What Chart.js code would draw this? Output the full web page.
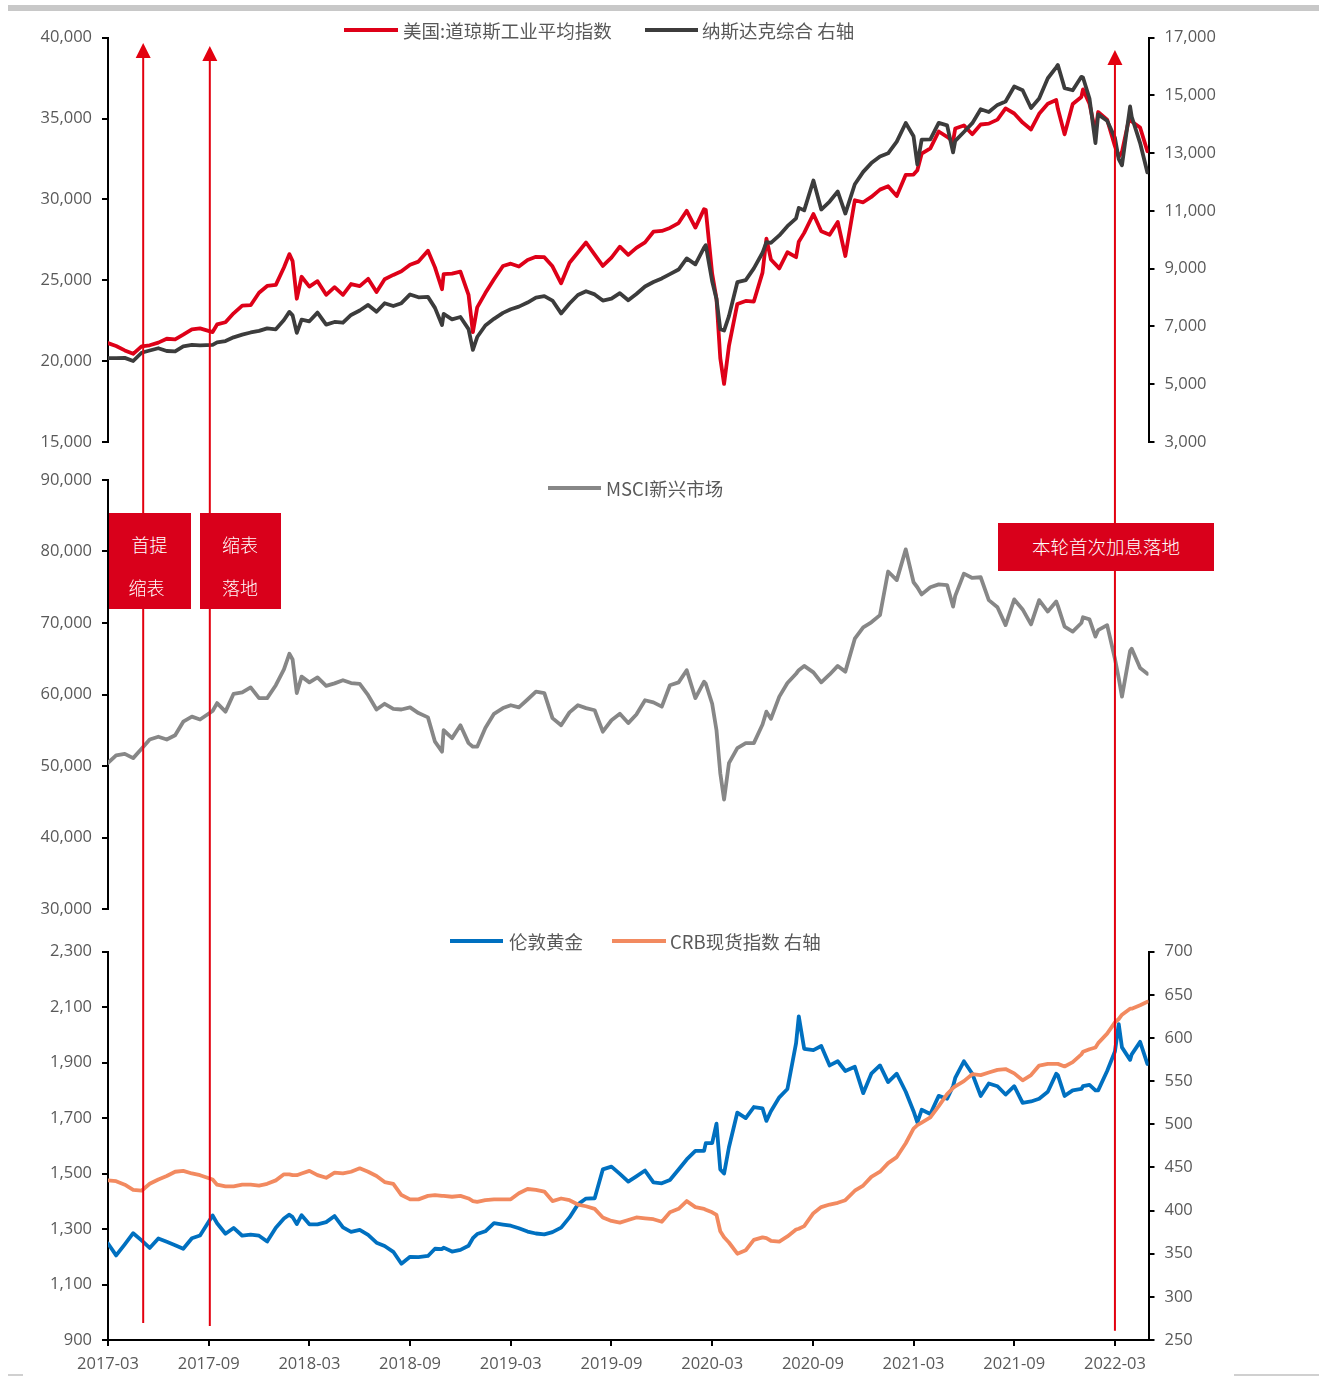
<!DOCTYPE html>
<html><head><meta charset="utf-8">
<script src="https://cdn.jsdelivr.net/npm/chart.js@4.4.1/dist/chart.umd.min.js"></script>
<style>
html,body{margin:0;padding:0;background:#fff;}
#wrap{position:relative;width:1319px;height:1376px;overflow:hidden;background:#fff;}
canvas{position:absolute;left:0;}
.lg{position:absolute;height:24px;line-height:24px;font-family:"Noto Sans CJK SC","Noto Sans",sans-serif;font-size:18.5px;color:#595959;white-space:nowrap;}
.sw{position:absolute;height:4px;}
.box{position:absolute;background:#D9001B;}
.bt{position:absolute;height:24px;line-height:24px;font-family:"Noto Sans CJK SC",sans-serif;font-weight:300;font-size:18px;color:#fff;white-space:nowrap;}
</style></head><body>
<div id="wrap">
 <div style="position:absolute;left:8px;top:5px;width:1311px;height:6px;background:#C8C8C8"></div>
 <canvas id="cTop" width="1319" height="462" style="top:0px;width:1319px;height:462px"></canvas>
 <canvas id="cMid" width="1319" height="463" style="top:462px;width:1319px;height:463px"></canvas>
 <canvas id="cBot" width="1319" height="451" style="top:925px;width:1319px;height:451px"></canvas>

 <div class="sw" style="left:344px;top:28px;width:54px;background:#DE0018"></div>
 <div class="lg" style="left:403px;top:18px">美国:道琼斯工业平均指数</div>
 <div class="sw" style="left:645px;top:28px;width:53px;background:#3C3C3C"></div>
 <div class="lg" style="left:702px;top:18px">纳斯达克综合 右轴</div>

 <div class="sw" style="left:548px;top:486px;width:53px;background:#878787"></div>
 <div class="lg" style="left:606px;top:476px">MSCI新兴市场</div>

 <div class="sw" style="left:450px;top:939px;width:53px;background:#0070C0"></div>
 <div class="lg" style="left:509px;top:929px">伦敦黄金</div>
 <div class="sw" style="left:612px;top:939px;width:54px;background:#F28A60"></div>
 <div class="lg" style="left:670px;top:929px">CRB现货指数 右轴</div>

 <div class="box" style="left:108.6px;top:513px;width:82px;height:96px"></div>
 <div class="box" style="left:199.5px;top:513px;width:81.5px;height:96px"></div>
 <div class="box" style="left:998px;top:523px;width:215.5px;height:48px"></div>
 <div class="bt" style="left:131.5px;top:532px">首提</div>
 <div class="bt" style="left:128.5px;top:575px">缩表</div>
 <div class="bt" style="left:222px;top:532px">缩表</div>
 <div class="bt" style="left:222px;top:575px">落地</div>
 <div class="bt" style="left:1032px;top:534px;font-size:18.5px">本轮首次加息落地</div>

 <div style="position:absolute;left:8px;top:1374px;width:15px;height:2px;background:#D0D0D0"></div>
 <div style="position:absolute;left:1234px;top:1374px;width:85px;height:2px;background:#D0D0D0"></div>
</div>
<script>
// ---------------- data ----------------
const dates = [
'2017-03-01','2017-03-16','2017-04-01','2017-04-16','2017-05-01','2017-05-16','2017-06-01','2017-06-16','2017-07-01','2017-07-16',
'2017-08-01','2017-08-16','2017-09-08','2017-09-16','2017-10-01','2017-10-16','2017-11-01','2017-11-16','2017-12-01','2017-12-16',
'2018-01-01','2018-01-16','2018-01-26','2018-02-01','2018-02-08','2018-02-16','2018-03-01','2018-03-16','2018-04-01','2018-04-16',
'2018-05-01','2018-05-16','2018-06-01','2018-06-16','2018-07-01','2018-07-16','2018-08-01','2018-08-16','2018-09-01','2018-09-16',
'2018-10-03','2018-10-16','2018-10-29','2018-11-01','2018-11-16','2018-12-01','2018-12-16','2018-12-24',
'2019-01-01','2019-01-16','2019-02-01','2019-02-16','2019-03-01','2019-03-16','2019-04-01','2019-04-16','2019-05-01','2019-05-16',
'2019-06-01','2019-06-16','2019-07-01','2019-07-16','2019-08-01','2019-08-16','2019-09-01','2019-09-16','2019-10-01','2019-10-16',
'2019-11-01','2019-11-16','2019-12-01','2019-12-16',
'2020-01-01','2020-01-16','2020-02-01','2020-02-16','2020-02-19','2020-03-01','2020-03-09','2020-03-16','2020-03-23','2020-04-01',
'2020-04-16','2020-05-01','2020-05-16','2020-06-01','2020-06-08','2020-06-16','2020-07-01','2020-07-16','2020-08-01','2020-08-06',
'2020-08-16','2020-09-02','2020-09-16','2020-10-01','2020-10-16','2020-10-30','2020-11-16','2020-12-01','2020-12-16',
'2021-01-01','2021-01-16','2021-02-01','2021-02-16','2021-03-01','2021-03-08','2021-03-16','2021-04-01','2021-04-16','2021-05-01',
'2021-05-12','2021-05-16','2021-06-01','2021-06-16','2021-07-01','2021-07-16','2021-08-01','2021-08-16','2021-09-01','2021-09-16',
'2021-10-01','2021-10-16','2021-11-01','2021-11-16','2021-11-19','2021-12-01','2021-12-16',
'2022-01-01','2022-01-04','2022-01-16','2022-01-27','2022-02-01','2022-02-16','2022-03-01','2022-03-08','2022-03-14','2022-03-29',
'2022-04-01','2022-04-16','2022-04-29'];

const dow = [
21115,20934,20663,20453,20913,20980,21144,21384,21350,21638,21964,22024,21798,22268,22405,22957,23435,23458,24231,24651,
24719,25792,26617,26186,23860,25219,24608,24946,24103,24573,24099,24768,24635,25090,24271,25064,25333,25558,25965,26154,
26828,25798,24443,25380,25413,25538,24100,21792,
23327,24207,25063,25883,26026,25849,26258,26452,26430,25862,24815,26089,26717,27335,26583,25886,26403,27076,26573,27001,
27347,28004,28051,28235,
28538,29297,28256,29398,29348,25409,23851,20188,18591,20943,23537,23723,23685,25475,27572,26289,25734,26734,26428,27386,
27931,29100,28032,27816,28606,26501,29950,29823,30154,
30606,30814,30212,31523,31535,31802,32825,33153,34200,33874,33587,34382,34575,34033,34633,34687,34935,35625,35312,34751,
34326,35294,35913,36142,35601,34022,35897,
36338,36799,35911,34160,35405,34934,33294,32632,32945,35294,34818,34451,32977];

const nasdaq = [
5904,5901,5912,5805,6091,6169,6246,6151,6140,6312,6362,6345,6360,6448,6496,6624,6716,6793,6848,6936,
6903,7224,7505,7385,6777,7239,7180,7481,7063,7156,7130,7398,7554,7746,7510,7805,7707,7806,8109,8010,
8025,7645,7050,7434,7247,7330,6910,6193,
6635,7034,7264,7472,7595,7688,7829,8000,8050,7898,7453,7797,8091,8222,8111,7896,7963,8153,7909,8124,
8386,8540,8665,8814,
8973,9357,9151,9732,9817,8567,7950,6904,6860,7360,8533,8605,9014,9552,9924,9896,10154,10474,10745,11108,
11020,12056,11050,11326,11672,10911,11924,12355,12658,
12888,12998,13403,14047,13588,12609,13471,13480,14052,13962,13032,13430,13736,14040,14522,14427,14673,14793,15310,15181,
14567,14897,15595,15974,16057,15254,15180,
15645,15622,14893,13352,14346,14124,13533,12795,12581,14619,14262,13351,12335];

const msci = [
50430,51500,51700,51100,52400,53700,54100,53700,54300,56200,56900,56500,57700,58800,57600,60100,60300,61000,59500,59500,
61300,63500,65700,64900,60200,62500,61700,62400,61200,61560,62000,61600,61500,59900,57900,58700,58000,57900,58200,57400,
56800,53400,52000,55000,53900,55700,53200,52700,
52700,55300,57300,58100,58500,58200,59300,60400,60200,56700,55700,57500,58500,58100,57800,54800,56400,57300,56000,57200,
59200,58900,58300,61300,
61700,63400,59500,61800,61500,58700,55000,49000,45300,50400,52500,53200,53200,55800,57600,56600,59700,61600,62900,63400,
64000,63100,61700,62800,64000,63200,67800,69400,70100,
71100,77200,76000,80300,75700,75000,74000,75000,75400,75300,72300,73800,76900,76300,76400,73200,72200,69700,73300,71900,
69800,73200,71600,73000,72400,69500,68800,
70000,70800,70500,68100,69000,69700,65000,62300,59700,66100,66400,63700,62900];

const gold = [
1248,1205,1245,1285,1259,1232,1266,1254,1242,1229,1267,1277,1349,1321,1283,1304,1276,1280,1276,1255,
1305,1338,1352,1343,1318,1350,1317,1317,1325,1347,1306,1290,1297,1279,1251,1239,1218,1175,1200,1199,
1203,1229,1228,1233,1219,1225,1240,1267,
1282,1292,1321,1316,1312,1303,1291,1284,1281,1289,1305,1342,1389,1410,1411,1515,1525,1499,1471,1490,
1511,1468,1465,1477,
1515,1551,1582,1582,1610,1610,1680,1515,1500,1595,1720,1700,1740,1735,1690,1725,1775,1805,1970,2067,
1950,1945,1960,1890,1905,1870,1885,1790,1860,
1890,1830,1860,1795,1725,1685,1730,1715,1780,1770,1815,1845,1905,1860,1780,1825,1815,1785,1815,1755,
1760,1770,1795,1860,1855,1780,1800,
1805,1815,1820,1800,1800,1870,1940,2039,1955,1910,1930,1975,1895];

const crb = [
435,434,430,424,423,431,436,440,445,446,443,441,436,430,428,428,430,430,429,431,
435,442,442,441,441,443,446,441,438,444,443,445,449,445,440,433,431,418,413,413,
417,418,417,417,416,417,414,411,
410,412,413,413,413,420,425,424,422,411,414,412,407,405,402,392,388,386,389,392,
391,390,387,398,
402,411,404,402,401,398,395,376,369,363,350,354,366,369,368,365,364,370,378,379,
382,397,404,407,409,412,423,429,439,
445,455,462,478,495,499,502,508,521,535,542,544,550,558,557,560,563,564,559,551,
557,568,570,570,570,567,572,
581,584,587,589,594,605,618,622,627,634,634,638,642];

const tickLabels = ['2017-03','2017-09','2018-03','2018-09','2019-03','2019-09','2020-03','2020-09','2021-03','2021-09','2022-03'];
const eventDates = ['2017-05-04','2017-09-03','2022-03-01'];
const xStart = '2017-03-01', xEnd = '2022-05-01';

// ---------------- helpers ----------------
function monthIndex(s){
  const p = s.split('-').map(Number);
  const y = p[0], m = p[1], d = p.length > 2 ? p[2] : 1;
  const dim = new Date(y, m, 0).getDate();
  return (y - 2017) * 12 + (m - 3) + (d - 1) / dim;
}
const xs = dates.map(monthIndex);
const pts = arr => arr.map((v, i) => ({x: xs[i], y: v}));

const TICK_FONT = {family: '"Open Sans","Noto Sans",sans-serif', size: 16.5};
const LEFT_W = 108, RIGHT_W = 170.5;

function yAxis(pos, min, max, step, width){
  return {
    type: 'linear', position: pos, min: min, max: max,
    afterBuildTicks: s => { const t = []; for (let v = min; v <= max + 1e-9; v += step) t.push({value: v}); s.ticks = t; },
    ticks: {font: TICK_FONT, color: '#595959', padding: 10, autoSkip: false,
            callback: v => Number(v).toLocaleString('en-US')},
    grid: {display: true, drawOnChartArea: false, drawTicks: true, tickLength: 6, color: '#000', lineWidth: 2},
    border: {display: true, color: '#000', width: 2},
    afterFit: s => { s.width = width; s.paddingTop = 0; s.paddingBottom = 0; }
  };
}
const xHidden = () => ({type: 'linear', min: monthIndex(xStart), max: monthIndex(xEnd), display: false});
const xBottom = {
  type: 'linear', position: 'bottom', min: monthIndex(xStart), max: monthIndex(xEnd),
  afterBuildTicks: s => { s.ticks = tickLabels.map(l => ({value: monthIndex(l + '-01')})); },
  ticks: {font: TICK_FONT, color: '#595959', padding: 8, autoSkip: false, maxRotation: 0, minRotation: 0,
          callback: (v, i) => tickLabels[i]},
  grid: {display: true, drawOnChartArea: false, drawTicks: true, tickLength: 6, color: '#000', lineWidth: 2},
  border: {display: true, color: '#000', width: 2},
  afterFit: s => { s.height = 36; }
};

const vlinePlugin = {
  id: 'vlines',
  afterDatasetsDraw(chart, args, opts){
    const ctx = chart.ctx, sx = chart.scales.x;
    ctx.save();
    ctx.strokeStyle = opts.color; ctx.fillStyle = opts.color; ctx.lineWidth = opts.width;
    opts.lines.forEach((l, i) => {
      const x = sx.getPixelForValue(monthIndex(eventDates[i]));
      const y0 = (l.tip != null) ? l.tip + 12 : 0;
      const y1 = (l.end != null) ? l.end : chart.height;
      ctx.beginPath(); ctx.moveTo(x, y0); ctx.lineTo(x, y1); ctx.stroke();
      if (l.tip != null){
        ctx.beginPath(); ctx.moveTo(x, l.tip); ctx.lineTo(x - 7.5, l.tip + 15); ctx.lineTo(x + 7.5, l.tip + 15);
        ctx.closePath(); ctx.fill();
      }
    });
    ctx.restore();
  }
};

function lineDS(data, color, axis, order){
  return {data: data, borderColor: color, borderWidth: 3.8, pointRadius: 0, fill: false, tension: 0,
          borderJoinStyle: 'round', borderCapStyle: 'round', yAxisID: axis, order: order};
}
function baseOpts(padding, scales, lines){
  return {
    responsive: false, animation: false, events: [], devicePixelRatio: 1,
    layout: {padding: padding},
    plugins: {legend: {display: false}, tooltip: {enabled: false},
              vlines: {color: '#E3000F', width: 2, lines: lines}},
    scales: scales
  };
}

// ---------------- charts ----------------
new Chart(document.getElementById('cTop'), {
  type: 'line',
  data: {datasets: [
    lineDS(pts(nasdaq), '#3C3C3C', 'yR', 0),
    lineDS(pts(dow), '#DE0018', 'yL', 1)
  ]},
  options: baseOpts({top: 37.7, bottom: 20, left: 0, right: 0}, {
    x: xHidden(),
    yL: yAxis('left', 15000, 40000, 5000, LEFT_W),
    yR: yAxis('right', 3000, 17000, 2000, RIGHT_W)
  }, [{tip: 43}, {tip: 46}, {tip: 50}]),
  plugins: [vlinePlugin]
});

new Chart(document.getElementById('cMid'), {
  type: 'line',
  data: {datasets: [ lineDS(pts(msci), '#878787', 'yM', 0) ]},
  options: baseOpts({top: 18, bottom: 16, left: 0, right: RIGHT_W}, {
    x: xHidden(),
    yM: yAxis('left', 30000, 90000, 10000, LEFT_W)
  }, [{}, {}, {}]),
  plugins: [vlinePlugin]
});

new Chart(document.getElementById('cBot'), {
  type: 'line',
  data: {datasets: [
    lineDS(pts(crb), '#F28A60', 'yC', 0),
    lineDS(pts(gold), '#0070C0', 'yG', 1)
  ]},
  options: baseOpts({top: 26.7, bottom: 0, left: 0, right: 0}, {
    x: xBottom,
    yG: yAxis('left', 900, 2300, 200, LEFT_W),
    yC: yAxis('right', 250, 700, 50, RIGHT_W)
  }, [{end: 398}, {end: 401}, {end: 405.7}]),
  plugins: [vlinePlugin]
});
</script>
</body></html>
